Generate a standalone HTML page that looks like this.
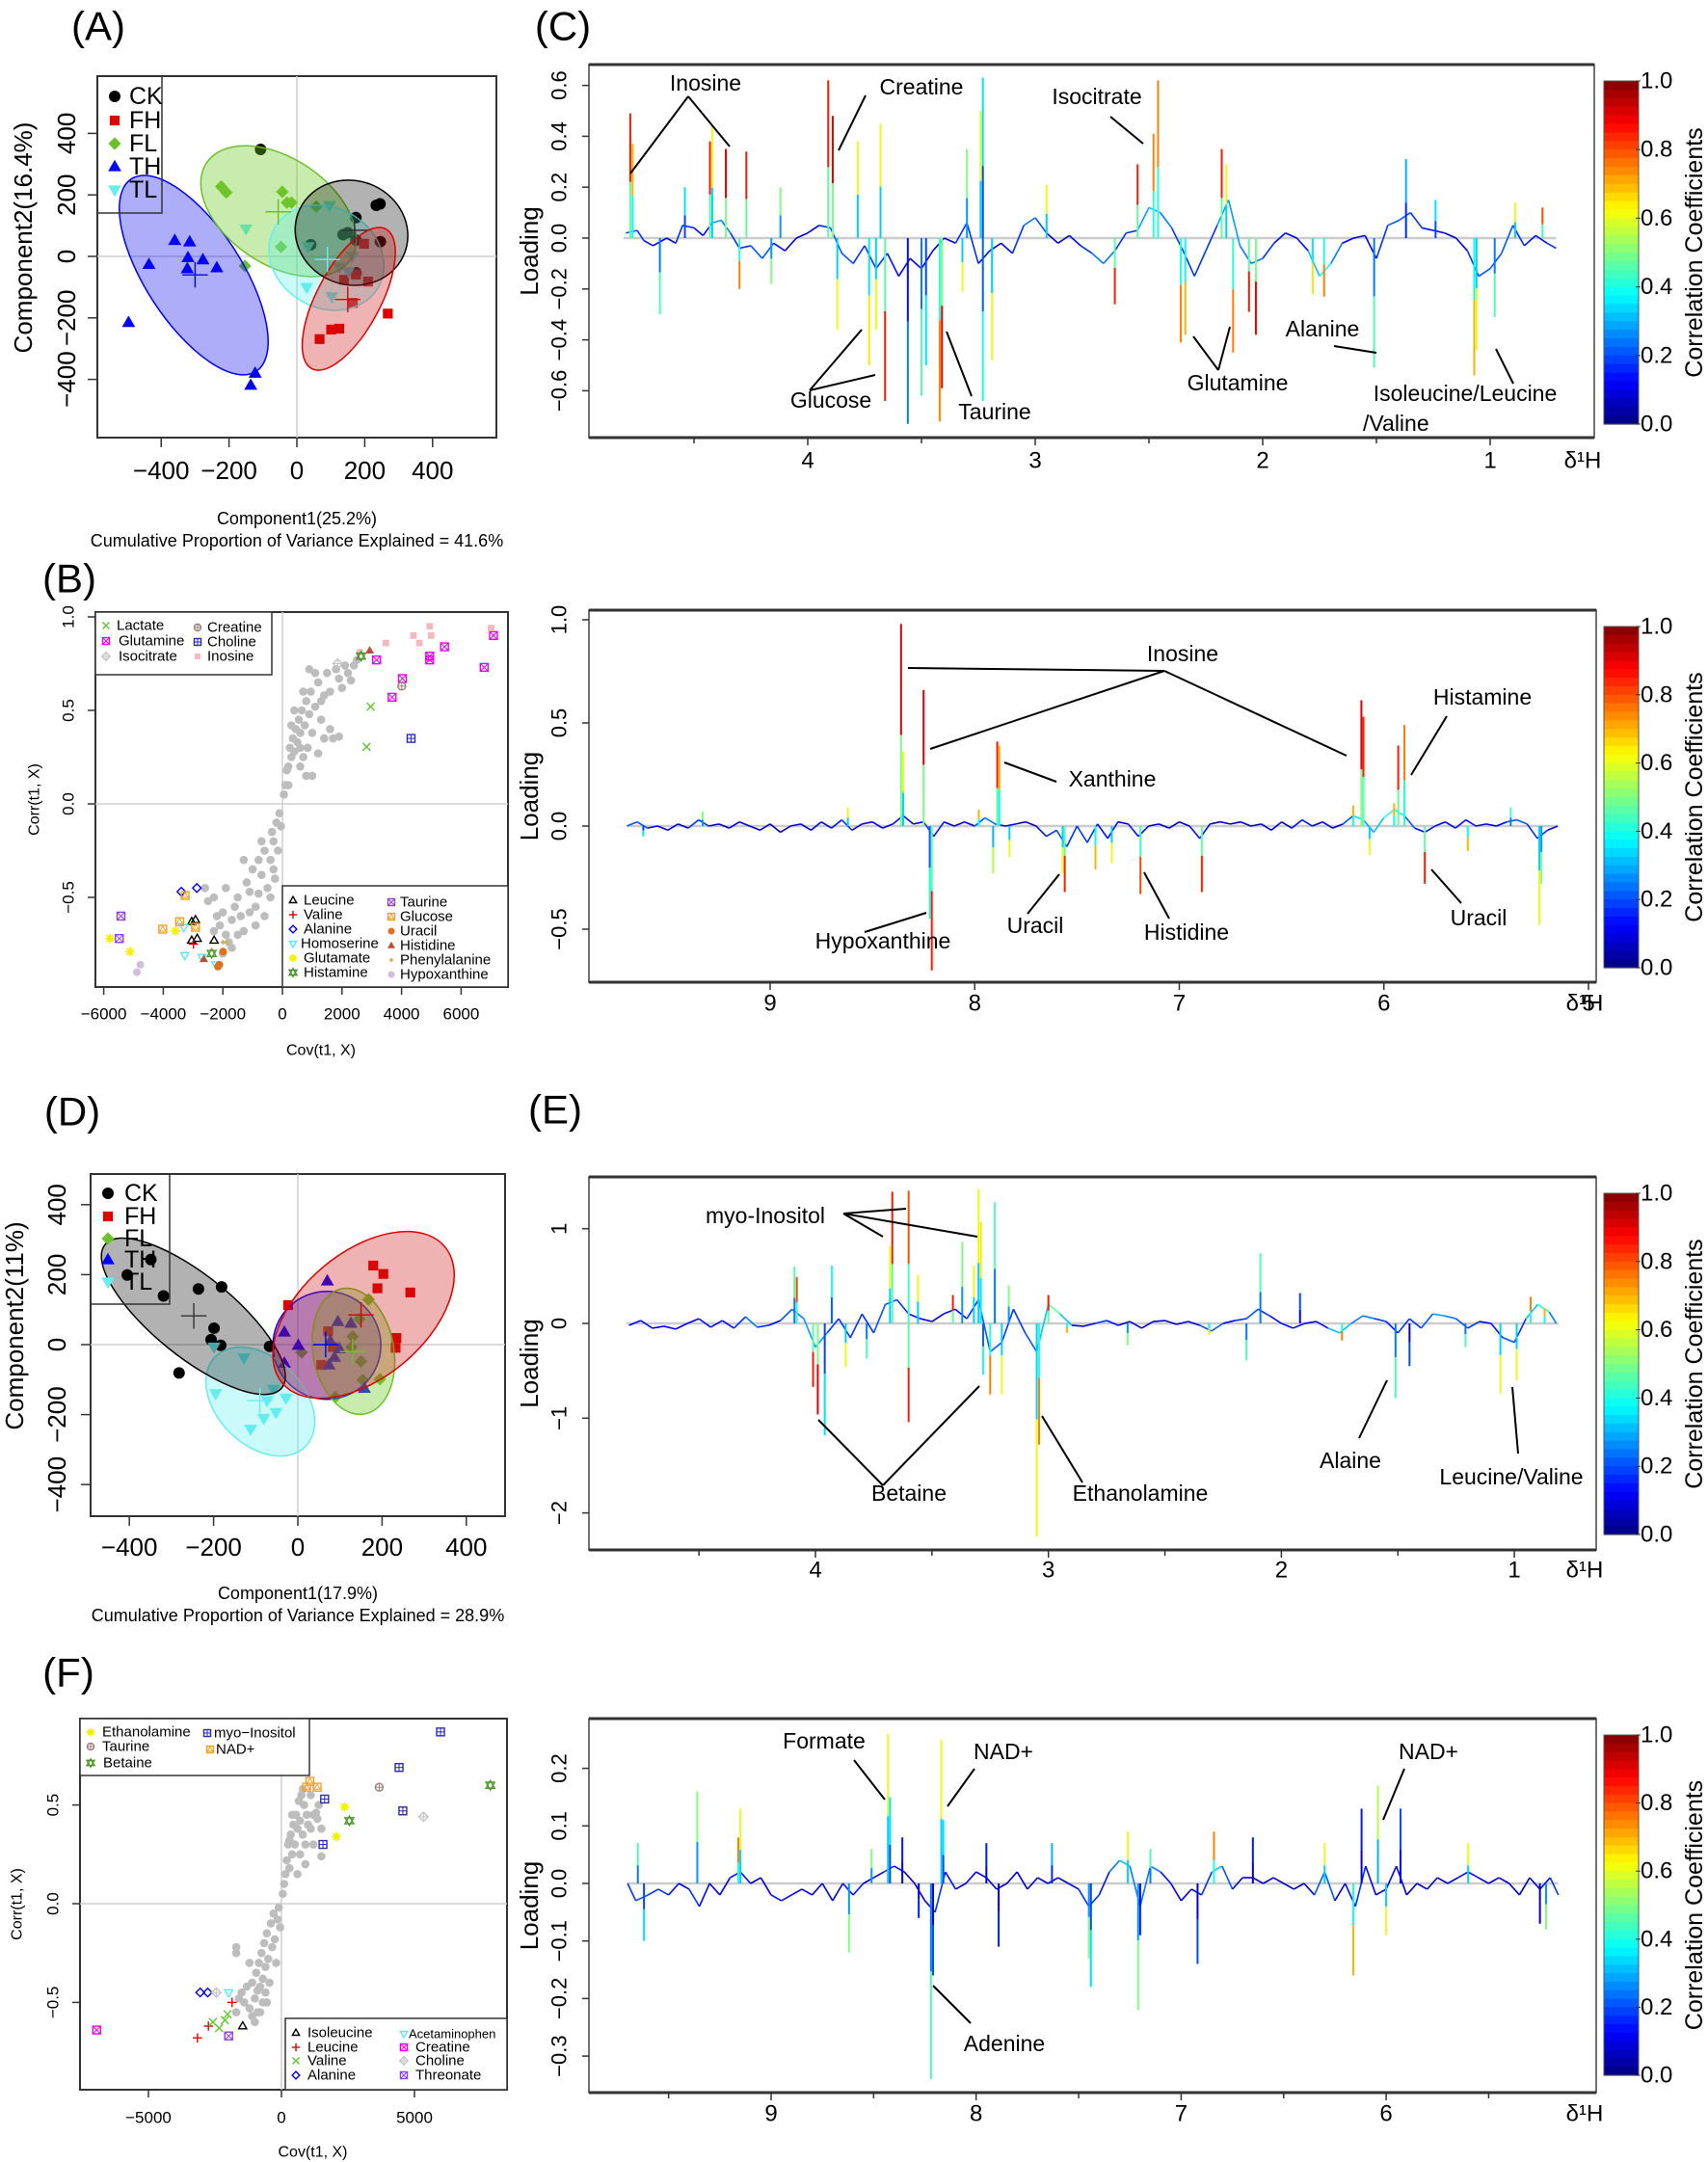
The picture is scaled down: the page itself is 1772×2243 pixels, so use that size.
<!DOCTYPE html>
<html><head><meta charset="utf-8">
<style>
body{margin:0;background:#fff}
svg{display:block;font-family:"Liberation Sans",sans-serif}
.n{font-family:"Liberation Sans Narrow","Liberation Sans",sans-serif}
</style></head>
<body>
<svg id="fig" width="1772" height="2243" viewBox="0 0 1772 2243"></svg>
<script>
// ---------------- DATA ----------------
const aCK=[[-107,348],[174,126],[234,166],[245,171],[246,48],[174,53],[136,71],[150,77],[174,-53],[41,38]];
const aFH=[[67,-269],[101,-238],[125,-235],[268,-186],[165,-151],[139,-76],[174,-59],[210,-82],[198,41]];
const aFL=[[-223,227],[-208,208],[-43,210],[-29,175],[-16,175],[57,162],[-47,31],[-153,-31]];
const aTH=[[-360,52],[-316,47],[-321,-4],[-277,-11],[-436,-26],[-323,-40],[-236,-37],[-496,-215],[-123,-380],[-136,-419]];
const aTL=[[-150,89],[96,165],[33,31],[29,-101],[103,-131],[125,-36],[163,0],[152,-50]];
const aCentroids=[[170,85],[150,-140],[-55,145],[-300,-60],[90,-10]];
const aEllipses=[[161,77,59,54,20],[153,-138,82,33,-62],[-54,147,90,55,34],[-304,-61,119,50,57],[87,-4,62,52,30]];
const aXTicks=[-400,-200,0,200,400];
const aYTicks=[-400,-200,0,200,400];

const dCK=[[-349,243],[-405,199],[-319,139],[-236,159],[-181,165],[-199,47],[-206,14],[-183,-2],[-67,-5],[-282,-81]];
const dFH=[[179,226],[203,202],[189,161],[267,149],[-23,113],[234,19],[232,-9],[72,38],[56,-58],[83,-7]];
const dFL=[[168,129],[146,73],[130,23],[127,-7],[150,-48],[154,-101],[195,-99],[89,-150],[9,-22]];
const dTH=[[70,182],[-32,36],[1,-2],[95,66],[126,61],[77,10],[99,-12],[87,-36],[74,-58],[-32,-53],[158,-125]];
const dTL=[[-199,-7],[-128,-38],[-195,-140],[-58,-128],[-28,-153],[-73,-160],[-52,-194],[-81,-211],[-112,-242]];
const dCentroids=[[-247,82],[150,85],[130,-20],[66,0],[-90,-160]];
const dEllipses=[[-248,81,118,42,39],[156,85,110,65,-40],[132,-19,66,42,80],[69,-2,56,56,0],[-89,-163,66,45,45]];
const dXTicks=[-400,-200,0,200,400];
const dYTicks=[-400,-200,0,200,400];

const bCloud=[[-2600,-0.45],[-2500,-0.52],[-2300,-0.5],[-2200,-0.6],[-2100,-0.65],[-2000,-0.58],[-1900,-0.7],[-1800,-0.74],[-1700,-0.62],[-1600,-0.55],[-1500,-0.5],[-1400,-0.6],[-1300,-0.68],[-1200,-0.42],[-1100,-0.47],[-1000,-0.35],[-900,-0.55],[-800,-0.3],[-700,-0.38],[-600,-0.25],[-500,-0.45],[-400,-0.3],[-350,-0.15],[-300,-0.2],[-250,-0.4],[-200,-0.1],[-150,-0.25],[-100,-0.05],[-50,-0.12],[-1500,-0.7],[-1700,-0.77],[-2000,-0.8],[-900,-0.65],[-600,-0.6],[-1100,-0.58],[-800,-0.48],[-400,-0.5],[-300,-0.35],[-1300,-0.3],[-700,-0.2],[-1900,-0.45],[-2300,-0.68],
[50,0.05],[100,0.1],[150,0.18],[200,0.2],[250,0.3],[300,0.25],[350,0.35],[400,0.28],[450,0.4],[500,0.33],[550,0.45],[600,0.38],[650,0.5],[700,0.25],[750,0.42],[800,0.55],[850,0.3],[900,0.48],[950,0.6],[1000,0.38],[1100,0.52],[1200,0.65],[1300,0.45],[1400,0.58],[1500,0.7],[1600,0.6],[1700,0.35],[1800,0.72],[1900,0.67],[2000,0.62],[2100,0.74],[2200,0.7],[2300,0.66],[2400,0.74],[2500,0.77],[1400,0.35],[1000,0.15],[600,0.2],[1200,0.27],[800,0.15],[300,0.42],[700,0.6],[1100,0.7],[900,0.72],[400,0.5],[1600,0.4],[1900,0.36],[1300,0.55],[600,0.3],[200,0.1]];
const bNames=["Lactate","Glutamine","Isocitrate","Creatine","Choline","Inosine","Leucine","Valine","Alanine","Homoserine","Glutamate","Histamine","Taurine","Glucose","Uracil","Histidine","Phenylalanine","Hypoxanthine"];
const bPoints=[
 [[2965,0.52],[2826,0.305]],
 [[3161,0.77],[4030,0.67],[3683,0.57],[4945,0.79],[4945,0.77],[5443,0.84],[7087,0.9],[6774,0.73]],
 [[1853,0.75]],
 [[4007,0.63]],
 [[4319,0.35]],
 [[3474,0.86],[4400,0.9],[4597,0.86],[4945,0.95],[4991,0.9],[7005,0.94],[2600,0.81]],
 [[-3046,-0.63],[-2918,-0.62],[-3046,-0.73],[-2860,-0.72],[-2293,-0.73]],
 [[-2988,-0.75]],
 [[-3393,-0.47],[-2872,-0.45]],
 [[-3312,-0.66],[-3277,-0.81],[-2698,-0.82],[-2235,-0.86]],
 [[-5790,-0.72],[-5118,-0.79],[-3590,-0.68]],
 [[2640,0.79],[-2374,-0.8]],
 [[-5420,-0.6],[-5477,-0.72]],
 [[-4018,-0.67],[-3451,-0.63],[-2918,-0.66],[-3266,-0.49]],
 [[-1992,-0.79],[-2119,-0.86],[-2165,-0.87]],
 [[2930,0.82],[-2640,-0.83]],
 [[-1992,-0.74],[-1853,-0.74]],
 [[-4771,-0.86],[-4887,-0.9]]];
const bXTicks=[-6000,-4000,-2000,0,2000,4000,6000];
const bYTicks=[-0.5,0,0.5,1.0];
const bYLabels=["\u22120.5","0.0","0.5","1.0"];

const fCloud=[[-1700,-0.55],[-1600,-0.48],[-1500,-0.45],[-1400,-0.5],[-1300,-0.42],[-1200,-0.53],[-1100,-0.4],[-1000,-0.48],[-950,-0.35],[-900,-0.55],[-850,-0.3],[-800,-0.42],[-750,-0.25],[-700,-0.38],[-650,-0.2],[-600,-0.32],[-550,-0.15],[-500,-0.28],[-450,-0.4],[-400,-0.1],[-350,-0.22],[-300,-0.05],[-250,-0.18],[-200,-0.3],[-150,-0.08],[-100,-0.02],[-50,-0.12],[-1700,-0.22],[-1700,-0.25],[-1200,-0.3],[-600,-0.45],[-800,-0.55],[-1000,-0.6],[-550,-0.5],[-1100,-0.57],[-900,-0.44],[-700,-0.5],
[50,0.05],[100,0.1],[150,0.15],[200,0.22],[250,0.3],[300,0.18],[350,0.35],[400,0.25],[450,0.4],[500,0.3],[550,0.45],[600,0.38],[650,0.52],[700,0.42],[750,0.55],[800,0.35],[850,0.5],[900,0.3],[950,0.45],[1000,0.4],[1100,0.38],[1200,0.3],[1300,0.46],[1350,0.43],[1400,0.5],[1500,0.38],[1500,0.24],[900,0.2],[700,0.25],[600,0.15],[1100,0.55],[400,0.45],[300,0.32],[1200,0.45],[800,0.58]];
const fNames=["Ethanolamine","myo-Inositol","Taurine","NAD+","Betaine","Isoleucine","Leucine","Valine","Alanine","Acetaminophen","Creatine","Choline","Threonate"];
const fPoints=[
 [[2372,0.49],[2062,0.34]],
 [[5981,0.87],[4421,0.69],[1624,0.53],[4563,0.47],[1560,0.3]],
 [[3674,0.59]],
 [[941,0.59],[1070,0.62],[1341,0.59]],
 [[2552,0.42],[7850,0.6]],
 [[-1457,-0.62]],
 [[-1856,-0.5],[-2746,-0.62],[-3158,-0.68]],
 [[-2578,-0.6],[-2346,-0.63],[-2127,-0.59],[-2024,-0.56]],
 [[-3055,-0.45],[-2771,-0.45]],
 [[-1985,-0.45]],
 [[-6948,-0.64]],
 [[5337,0.44],[-2449,-0.45]],
 [[-1985,-0.67]]];
const fXTicks=[-5000,0,5000];
const fYTicks=[-0.5,0,0.5];
const fYLabels=["\u22120.5","0.0","0.5"];

const cBase=[[4.80,0.02,.3],[4.75,0.03,.3],[4.72,-0.01,.2],[4.68,-0.03,.2],[4.62,0,.1],[4.58,-0.02,.2],[4.55,0.05,.3],[4.5,0.04,.2],[4.46,0.01,.1],[4.42,0.06,.3],[4.38,0.07,.5],[4.34,0.02,.2],[4.3,-0.04,.3],[4.25,-0.03,.2],[4.2,-0.08,.4],[4.15,-0.02,.2],[4.1,-0.05,.2],[4.05,0,.1],[4.0,0.02,.1],[3.95,0.05,.2],[3.9,0.04,.3],[3.85,-0.06,.3],[3.8,-0.1,.3],[3.75,-0.03,.2],[3.7,-0.12,.3],[3.65,-0.06,.2],[3.6,-0.15,.2],[3.55,-0.08,.1],[3.5,-0.12,.2],[3.45,-0.05,.1],[3.4,0,.1],[3.35,-0.02,.2],[3.3,0.06,.3],[3.25,-0.1,.2],[3.2,-0.05,.2],[3.15,-0.02,.1],[3.1,-0.06,.2],[3.05,0.05,.3],[3.0,0.08,.4],[2.95,0.02,.2],[2.9,-0.02,.1],[2.85,0.01,.1],[2.8,-0.03,.2],[2.75,-0.06,.3],[2.7,-0.1,.4],[2.65,-0.05,.3],[2.6,0.02,.2],[2.55,0.03,.3],[2.5,0.12,.5],[2.45,0.1,.4],[2.4,0.04,.3],[2.35,-0.05,.2],[2.3,-0.15,.3],[2.25,-0.05,.2],[2.2,0.05,.3],[2.15,0.15,.5],[2.1,-0.03,.3],[2.05,-0.1,.4],[2.0,-0.08,.3],[1.95,-0.02,.2],[1.9,0.02,.2],[1.85,0,.1],[1.8,-0.05,.3],[1.75,-0.15,.6],[1.7,-0.1,.5],[1.65,-0.02,.2],[1.6,0,.1],[1.55,0.01,.1],[1.5,-0.08,.2],[1.45,0.05,.3],[1.4,0.07,.3],[1.35,0.1,.3],[1.3,0.04,.2],[1.25,0.03,.2],[1.2,0.02,.1],[1.15,0,.1],[1.1,-0.05,.2],[1.05,-0.15,.3],[1.0,-0.12,.3],[0.95,-0.06,.3],[0.9,0.05,.3],[0.85,-0.03,.2],[0.8,0.01,.2],[0.75,-0.02,.2],[0.71,-0.04,.3]];
const cPeaks=[[4.78,0.49,.85],[4.77,0.37,.7],[4.65,-0.30,.45],[4.54,0.2,.35],[4.43,0.38,.85],[4.42,0.44,.6],[4.36,0.35,.9],[4.30,-0.20,.75],[4.27,0.34,.85],[4.16,-0.18,.5],[4.12,0.2,.5],[3.91,0.62,.85],[3.89,0.48,.9],[3.87,-0.36,.6],[3.78,0.38,.6],[3.73,-0.50,.65],[3.70,-0.36,.6],[3.68,0.45,.6],[3.66,-0.64,.85],[3.56,-0.73,.25],[3.50,-0.62,.45],[3.48,-0.5,.35],[3.42,-0.72,.75],[3.41,-0.59,.9],[3.32,-0.21,.6],[3.30,0.35,.5],[3.24,0.50,.6],[3.23,0.63,.35],[3.23,-0.64,.4],[3.19,-0.48,.6],[2.95,0.21,.6],[2.65,-0.26,.85],[2.55,0.29,.85],[2.48,0.41,.75],[2.46,0.62,.75],[2.36,-0.41,.75],[2.34,-0.38,.7],[2.18,0.35,.85],[2.16,0.29,.6],[2.13,-0.45,.75],[2.06,-0.29,.85],[2.03,-0.38,.9],[1.78,-0.22,.65],[1.73,-0.23,.75],[1.51,-0.51,.45],[1.37,0.31,.3],[1.24,0.15,.35],[1.07,-0.54,.7],[1.06,-0.44,.6],[0.98,-0.31,.45],[0.89,0.14,.6],[0.77,0.12,.8]];

const sbBase=[[9.7,0,.2],[9.65,0.02,.4],[9.6,-0.01,.2],[9.55,0,.1],[9.5,-0.02,.2],[9.45,0.01,.1],[9.4,-0.01,.1],[9.35,0.03,.4],[9.3,0,.1],[9.25,0.01,.1],[9.2,-0.01,.1],[9.15,0.02,.2],[9.1,0,.1],[9.05,-0.02,.1],[9.0,0.01,.1],[8.95,-0.03,.1],[8.9,0,.1],[8.85,0.01,.2],[8.8,-0.02,.1],[8.75,0.02,.2],[8.7,-0.01,.1],[8.65,0.03,.3],[8.6,-0.02,.2],[8.55,0.01,.1],[8.5,0.02,.2],[8.45,-0.01,.1],[8.4,0.01,.1],[8.35,0.05,.3],[8.3,0.01,.1],[8.25,0.02,.2],[8.2,-0.05,.3],[8.15,0.02,.1],[8.1,0,.1],[8.05,0.02,.2],[8.0,0,.1],[7.95,0.04,.5],[7.9,0.01,.2],[7.85,0,.1],[7.8,0.01,.1],[7.75,0.02,.1],[7.7,0,.1],[7.65,-0.05,.3],[7.6,-0.02,.2],[7.55,-0.1,.4],[7.5,0,.1],[7.45,-0.08,.4],[7.4,0.01,.1],[7.35,-0.06,.3],[7.3,0.02,.1],[7.25,0.01,.1],[7.2,-0.05,.3],[7.15,0,.1],[7.1,0.01,.1],[7.05,-0.01,.1],[7.0,0.02,.1],[6.95,0,.1],[6.9,-0.06,.3],[6.85,0.01,.1],[6.8,0.02,.1],[6.75,0.01,.1],[6.7,0.02,.1],[6.65,0,.1],[6.6,0.01,.1],[6.55,-0.02,.2],[6.5,0.02,.1],[6.45,-0.01,.1],[6.4,0.03,.3],[6.35,0,.1],[6.3,0.02,.2],[6.25,-0.01,.1],[6.2,0.01,.1],[6.15,0.05,.5],[6.1,0.03,.5],[6.05,-0.03,.3],[6.0,0.04,.6],[5.95,0.08,.6],[5.9,0.05,.5],[5.85,-0.01,.1],[5.8,-0.03,.3],[5.75,0,.1],[5.7,0.02,.2],[5.65,-0.01,.1],[5.6,0.03,.3],[5.55,0,.1],[5.5,0.01,.1],[5.45,0,.1],[5.4,0.02,.2],[5.35,0.03,.4],[5.3,0.01,.2],[5.25,-0.06,.3],[5.2,-0.02,.2],[5.15,0,.1]];
const sbPeaks=[[8.36,0.98,.9],[8.35,0.36,.6],[8.25,0.66,.9],[8.21,-0.70,.85],[8.22,-0.45,.4],[7.89,0.41,.85],[7.88,0.39,.7],[7.91,-0.23,.55],[7.83,-0.15,.6],[7.56,-0.32,.85],[7.57,-0.23,.6],[7.41,-0.21,.7],[7.33,-0.18,.6],[7.19,-0.33,.8],[6.89,-0.32,.85],[6.11,0.61,.9],[6.10,0.53,.85],[6.07,-0.14,.6],[5.93,0.39,.85],[5.90,0.49,.75],[5.95,0.11,.7],[5.80,-0.28,.85],[5.59,-0.12,.7],[5.38,0.09,.45],[5.24,-0.48,.6],[5.23,-0.28,.5],[8.62,0.09,.6],[9.33,0.07,.5],[9.62,-0.05,.35],[7.98,0.08,.7],[6.15,0.1,.7]];

const eBase=[[4.80,-0.02,.1],[4.75,0.03,.2],[4.7,-0.05,.2],[4.65,-0.03,.1],[4.6,-0.06,.2],[4.55,0,.1],[4.5,0.05,.2],[4.45,-0.04,.2],[4.4,0.03,.2],[4.35,-0.05,.2],[4.3,0.07,.3],[4.25,-0.04,.4],[4.2,-0.02,.1],[4.15,0.03,.2],[4.1,0.15,.4],[4.05,0.05,.3],[4.0,-0.25,.5],[3.95,-0.1,.3],[3.9,0.05,.2],[3.85,-0.15,.3],[3.8,0.1,.2],[3.75,-0.1,.3],[3.7,0.2,.3],[3.65,0.25,.3],[3.6,0.1,.2],[3.55,0.05,.2],[3.5,0.02,.1],[3.45,0.1,.2],[3.4,0.15,.2],[3.35,0.05,.2],[3.3,0.25,.3],[3.25,-0.3,.3],[3.2,-0.2,.3],[3.15,0.15,.2],[3.1,-0.1,.3],[3.05,-0.3,.3],[3.0,0.2,.6],[2.95,0.1,.7],[2.9,-0.02,.2],[2.85,-0.03,.1],[2.8,0,.2],[2.75,0.03,.3],[2.7,-0.02,.1],[2.65,0.02,.1],[2.6,-0.05,.2],[2.55,0.02,.1],[2.5,0.03,.1],[2.45,-0.01,.1],[2.4,0.02,.1],[2.35,-0.02,.1],[2.3,-0.08,.5],[2.25,0,.1],[2.2,0.03,.2],[2.15,0.05,.3],[2.1,0.15,.3],[2.05,0.08,.2],[2.0,0,.1],[1.95,-0.05,.3],[1.9,0,.1],[1.85,0.02,.1],[1.8,-0.05,.3],[1.75,-0.1,.6],[1.7,0,.3],[1.65,0.08,.4],[1.6,0.05,.3],[1.55,0.02,.2],[1.5,-0.1,.2],[1.45,0.05,.3],[1.4,-0.05,.2],[1.35,0.1,.4],[1.3,0.08,.4],[1.25,0.05,.3],[1.2,-0.05,.3],[1.15,0.02,.2],[1.1,0,.1],[1.05,-0.15,.3],[1.0,-0.2,.3],[0.95,0.05,.2],[0.9,0.2,.7],[0.85,0.12,.5],[0.82,0,.2]];
const ePeaks=[[4.09,0.6,.45],[4.08,0.49,.8],[4.01,-0.67,.85],[3.99,-0.96,.9],[3.96,-1.18,.35],[3.93,0.61,.4],[3.87,-0.46,.6],[3.78,-0.37,.45],[3.68,0.82,.6],[3.67,1.39,.85],[3.60,-1.04,.85],[3.60,1.40,.8],[3.56,0.51,.6],[3.41,0.3,.85],[3.37,0.86,.5],[3.32,0.61,.6],[3.30,1.42,.6],[3.29,1.07,.65],[3.28,-0.54,.4],[3.25,-0.75,.75],[3.23,1.28,.45],[3.20,-0.75,.6],[3.17,0.4,.5],[3.05,-2.25,.6],[3.04,-1.28,.75],[3.0,0.3,.85],[2.92,-0.1,.7],[2.66,-0.23,.5],[2.31,-0.12,.65],[2.09,0.74,.45],[2.15,-0.39,.45],[1.92,0.32,.2],[1.74,-0.18,.75],[1.51,-0.79,.45],[1.45,-0.45,.2],[1.21,-0.25,.45],[1.06,-0.74,.6],[0.99,-0.6,.6],[0.93,0.28,.75],[0.87,0.16,.7]];

const sfBase=[[9.7,0,.2],[9.66,-0.03,.3],[9.6,-0.02,.3],[9.55,-0.01,.2],[9.5,-0.02,.3],[9.45,0,.1],[9.4,-0.01,.2],[9.35,-0.04,.3],[9.3,0,.1],[9.25,-0.02,.2],[9.2,0.01,.1],[9.15,0.02,.3],[9.1,0,.1],[9.05,0.01,.1],[9.0,-0.02,.2],[8.95,-0.03,.2],[8.9,-0.02,.2],[8.85,-0.01,.1],[8.8,-0.02,.2],[8.75,0,.1],[8.7,-0.03,.2],[8.65,0,.1],[8.6,-0.02,.3],[8.55,0,.1],[8.5,0.01,.1],[8.45,0.02,.2],[8.4,0.03,.3],[8.35,0.02,.1],[8.3,0,.1],[8.25,-0.03,.1],[8.2,-0.05,.2],[8.15,0.02,.3],[8.1,-0.01,.1],[8.05,0,.1],[8.0,0.02,.2],[7.95,0.01,.1],[7.9,-0.01,.1],[7.85,0,.1],[7.8,0.02,.1],[7.75,-0.01,.1],[7.7,0.01,.1],[7.65,0,.1],[7.6,0.01,.1],[7.55,0,.1],[7.5,-0.01,.2],[7.45,-0.04,.3],[7.4,-0.02,.2],[7.35,0.02,.2],[7.3,0.04,.5],[7.25,0.03,.4],[7.2,-0.04,.3],[7.15,0.03,.4],[7.1,0.02,.3],[7.05,0,.1],[7.0,-0.03,.2],[6.95,-0.01,.1],[6.9,-0.02,.1],[6.85,0.02,.4],[6.8,0.03,.5],[6.75,-0.01,.1],[6.7,0.01,.1],[6.65,0.01,.1],[6.6,0,.1],[6.55,0.01,.1],[6.5,0,.1],[6.45,-0.01,.1],[6.4,0,.1],[6.35,-0.02,.2],[6.3,0.02,.4],[6.25,-0.03,.2],[6.2,0,.1],[6.15,-0.04,.3],[6.1,0.03,.2],[6.05,-0.02,.1],[6.0,-0.01,.1],[5.95,0.03,.2],[5.9,-0.02,.1],[5.85,0,.1],[5.8,-0.01,.1],[5.75,0.01,.1],[5.7,0,.1],[5.65,0.01,.1],[5.6,0.02,.3],[5.55,0.01,.1],[5.5,0,.1],[5.45,0.01,.1],[5.4,0,.1],[5.35,-0.02,.1],[5.3,0.01,.1],[5.25,-0.01,.1],[5.2,0.01,.2],[5.16,-0.02,.3]];
const sfPeaks=[[9.65,0.07,.45],[9.62,-0.10,.35],[9.36,0.16,.5],[9.15,0.13,.6],[9.16,0.08,.75],[8.62,-0.12,.5],[8.51,0.06,.5],[8.43,0.26,.6],[8.42,0.15,.35],[8.36,0.08,.15],[8.28,-0.06,.15],[8.21,-0.16,.2],[8.22,-0.34,.45],[8.17,0.25,.6],[8.16,0.11,.35],[7.95,0.07,.15],[7.89,-0.11,.15],[7.63,0.07,.3],[7.45,-0.13,.5],[7.44,-0.18,.35],[7.26,0.09,.6],[7.21,-0.22,.5],[7.20,-0.09,.15],[7.15,0.06,.45],[6.92,-0.14,.2],[6.84,0.09,.75],[6.65,0.08,.15],[6.30,0.07,.6],[6.16,-0.16,.7],[6.12,0.13,.15],[6.04,0.17,.55],[6.00,-0.09,.6],[5.93,0.13,.2],[5.60,0.07,.6],[5.25,-0.07,.1],[5.22,-0.08,.5]];

// ---------------- HELPERS ----------------
const NS='http://www.w3.org/2000/svg';
const svg=document.getElementById('fig');
function E(tag,attrs,parent){const e=document.createElementNS(NS,tag);for(const k in attrs)e.setAttribute(k,attrs[k]);(parent||svg).appendChild(e);return e;}
function G(name,parent){const g=E('g',{},parent);


return g;}
function T(parent,name,txt,x,y,size,opt){opt=opt||{};
const a={x:x,y:y,'font-size':size,'text-anchor':opt.anchor||'middle','dominant-baseline':'central',fill:'#000'};
if(opt.rot)a.transform='rotate('+opt.rot+' '+x+' '+y+')';
if(opt.cls)a['class']=opt.cls;
if(opt.weight)a['font-weight']=opt.weight;
const t=E('text',a,parent);t.textContent=txt;


return t;}
function L(parent,name,x1,y1,x2,y2,color,w){const l=E('line',{x1:x1,y1:y1,x2:x2,y2:y2,stroke:color||'#000','stroke-width':w||1.5},parent);


return l;}
function jet(v){const c=t=>Math.round(255*Math.max(0,Math.min(1,t)));return 'rgb('+c(1.5-Math.abs(4*v-3))+','+c(1.5-Math.abs(4*v-2))+','+c(1.5-Math.abs(4*v-1))+')';}
function minus(v){return String(v).replace('-','\u2212');}

function M(parent,name,type,x,y,color,s){const g=E('g',{},parent);


const sw=1.4;
const tri=(k)=>[[x,y-s*k],[x-s*k*0.95,y+s*k*0.65],[x+s*k*0.95,y+s*k*0.65]].map(p=>p.join(',')).join(' ');
const trid=(k)=>[[x,y+s*k],[x-s*k*0.95,y-s*k*0.65],[x+s*k*0.95,y-s*k*0.65]].map(p=>p.join(',')).join(' ');
const dia=(k)=>[[x,y-s*k],[x+s*k,y],[x,y+s*k],[x-s*k,y]].map(p=>p.join(',')).join(' ');
if(type==='circle')E('circle',{cx:x,cy:y,r:s,fill:color},g);
else if(type==='square')E('rect',{x:x-s*0.85,y:y-s*0.85,width:s*1.7,height:s*1.7,fill:color},g);
else if(type==='diamond')E('polygon',{points:dia(1.1),fill:color},g);
else if(type==='tri')E('polygon',{points:tri(1.2),fill:color},g);
else if(type==='tridown')E('polygon',{points:trid(1.2),fill:color},g);
else if(type==='opentri')E('polygon',{points:tri(1.1),fill:'none',stroke:color,'stroke-width':sw},g);
else if(type==='opentridown')E('polygon',{points:trid(1.1),fill:'none',stroke:color,'stroke-width':sw},g);
else if(type==='opendiam')E('polygon',{points:dia(1.1),fill:'none',stroke:color,'stroke-width':sw},g);
else if(type==='plus'){E('line',{x1:x-s*1.2,y1:y,x2:x+s*1.2,y2:y,stroke:color,'stroke-width':sw},g);E('line',{x1:x,y1:y-s*1.2,x2:x,y2:y+s*1.2,stroke:color,'stroke-width':sw},g);}
else if(type==='xcross'){E('line',{x1:x-s,y1:y-s,x2:x+s,y2:y+s,stroke:color,'stroke-width':sw},g);E('line',{x1:x-s,y1:y+s,x2:x+s,y2:y-s,stroke:color,'stroke-width':sw},g);}
else if(type==='aster'){[[1,0],[0,1],[0.7,0.7],[0.7,-0.7]].forEach(d=>E('line',{x1:x-d[0]*s*1.2,y1:y-d[1]*s*1.2,x2:x+d[0]*s*1.2,y2:y+d[1]*s*1.2,stroke:color,'stroke-width':sw+0.4},g));}
else if(type==='boxx'){E('rect',{x:x-s,y:y-s,width:2*s,height:2*s,fill:'none',stroke:color,'stroke-width':sw},g);E('line',{x1:x-s,y1:y-s,x2:x+s,y2:y+s,stroke:color,'stroke-width':1},g);E('line',{x1:x-s,y1:y+s,x2:x+s,y2:y-s,stroke:color,'stroke-width':1},g);}
else if(type==='boxplus'){E('rect',{x:x-s,y:y-s,width:2*s,height:2*s,fill:'none',stroke:color,'stroke-width':sw},g);E('line',{x1:x-s,y1:y,x2:x+s,y2:y,stroke:color,'stroke-width':1},g);E('line',{x1:x,y1:y-s,x2:x,y2:y+s,stroke:color,'stroke-width':1},g);}
else if(type==='boxtri'){E('rect',{x:x-s,y:y-s,width:2*s,height:2*s,fill:'none',stroke:color,'stroke-width':sw},g);E('polygon',{points:tri(0.8),fill:'none',stroke:color,'stroke-width':1},g);}
else if(type==='circplus'){E('circle',{cx:x,cy:y,r:s,fill:'none',stroke:color,'stroke-width':sw},g);E('line',{x1:x-s,y1:y,x2:x+s,y2:y,stroke:color,'stroke-width':1},g);E('line',{x1:x,y1:y-s,x2:x,y2:y+s,stroke:color,'stroke-width':1},g);}
else if(type==='diamplus'){E('polygon',{points:dia(1.2),fill:'none',stroke:color,'stroke-width':sw},g);E('line',{x1:x-s*1.2,y1:y,x2:x+s*1.2,y2:y,stroke:color,'stroke-width':1},g);E('line',{x1:x,y1:y-s*1.2,x2:x,y2:y+s*1.2,stroke:color,'stroke-width':1},g);}
else if(type==='david'){E('polygon',{points:tri(1.2),fill:'none',stroke:color,'stroke-width':sw},g);E('polygon',{points:trid(1.2),fill:'none',stroke:color,'stroke-width':sw},g);}
else if(type==='dot')E('polygon',{points:dia(0.7),fill:color},g);
return g;}

// ---------------- SCORE PLOTS (A, D) ----------------
const grpNames=['CK','FH','FL','TH','TL'];
const grpColor=['#000000','#e00000','#6cc12a','#0000ff','#66eef0'];
const grpShape=['circle','square','diamond','tri','tridown'];
const grpFill=['rgba(0,0,0,0.30)','rgba(205,20,20,0.32)','rgba(110,205,40,0.38)','rgba(0,0,235,0.32)','rgba(90,240,240,0.32)'];
const grpOrder=[3,2,4,0,1];

function frame(g,box,xs,ys,xt,yt,xl,yl,fs,xlabY,ylabX,tl){
 const r=E('rect',{x:box[0],y:box[1],width:box[2]-box[0],height:box[3]-box[1],fill:'none',stroke:'#333','stroke-width':2},g);
 
 
 L(g,'zero-vline',xs(0),box[1],xs(0),box[3],'#cfcfcf',1.5);
 L(g,'zero-hline',box[0],ys(0),box[2],ys(0),'#cfcfcf',1.5);
 xt.forEach((v,i)=>{L(g,'x-tick',xs(v),box[3],xs(v),box[3]+tl,'#333',1.5);T(g,'x-tick-label',xl[i],xs(v),xlabY,fs);});
 yt.forEach((v,i)=>{L(g,'y-tick',box[0],ys(v),box[0]-tl,ys(v),'#333',1.5);T(g,'y-tick-label',yl[i],ylabX,ys(v),fs,{rot:-90});});
}

function scorePlot(name,box,xs,ys,ticksX,ticksY,groups,cents,ells,labY,labX,xtitle,ytitle,ytitleX,cumY,cumText,legBox,legY,legMX,legTX){
 const g=G(name);
 frame(g,box,xs,ys,ticksX,ticksY,ticksX.map(minus),ticksY.map(minus),26,labY,labX,10);
 groups.forEach((pts,k)=>pts.forEach(p=>M(g,grpNames[k].toLowerCase()+'-point',grpShape[k],xs(p[0]),ys(p[1]),grpColor[k],6)));
 grpOrder.forEach(k=>{const e=ells[k];
  const el=E('ellipse',{cx:xs(e[0]),cy:ys(e[1]),rx:e[2],ry:e[3],transform:'rotate('+e[4]+' '+xs(e[0])+' '+ys(e[1])+')',fill:grpFill[k],stroke:grpColor[k],'stroke-width':1.5},g);
  
  });
 cents.forEach((c,k)=>M(g,grpNames[k].toLowerCase()+'-centroid','plus',xs(c[0]),ys(c[1]),grpColor[k]==='#000000'?'#333':grpColor[k],11));
 T(g,'x-axis-title',xtitle,box[0]+(box[2]-box[0])/2,cumY-23,18);
 T(g,'variance-note',cumText,box[0]+(box[2]-box[0])/2,cumY,18);
 T(g,'y-axis-title',ytitle,ytitleX,box[1]+(box[3]-box[1])/2-20,26,{rot:-90});
 const lg=G('legend',g);
 const lr=E('rect',{x:box[0],y:box[1],width:legBox[0],height:legBox[1],fill:'none',stroke:'#333','stroke-width':1.5},lg);
 
 
 grpNames.forEach((n,k)=>{M(lg,'legend-marker-'+n.toLowerCase(),grpShape[k],legMX,legY[k],grpColor[k],6);T(lg,'legend-label-'+n.toLowerCase(),n,legTX,legY[k],25,{anchor:'start'});});
 return g;
}
scorePlot('panel-a',[101,79,515,454],v=>308+v*0.352,v=>266-v*0.319,aXTicks,aYTicks,[aCK,aFH,aFL,aTH,aTL],aCentroids,aEllipses,488,69,'Component1(25.2%)','Component2(16.4%)',24,561,'Cumulative Proportion of Variance Explained = 41.6%',[67,142],[100,125,149,173,197],119,134);
scorePlot('panel-d',[94,1218,524,1573],v=>309+v*0.437,v=>1395-v*0.363,dXTicks,dYTicks,[dCK,dFH,dFL,dTH,dTL],dCentroids,dEllipses,1605,59,'Component1(17.9%)','Component2(11%)',15,1676,'Cumulative Proportion of Variance Explained = 28.9%',[82,135],[1238,1262,1285,1307,1330],112,129);

// ---------------- S-PLOTS (B, F) ----------------
const bStyle={Lactate:['xcross','#5ec62e'],Glutamine:['boxx','#ee00ee'],Isocitrate:['diamplus','#c4c4c4'],Creatine:['circplus','#9a7f7a'],Choline:['boxplus','#2b2bb0'],Inosine:['square','#f4b8c0'],Leucine:['opentri','#000'],Valine:['plus','#e00000'],Alanine:['opendiam','#0000ee'],Homoserine:['opentridown','#55e8ff'],Glutamate:['aster','#f2f200'],Histamine:['david','#4a9a2a'],Taurine:['boxx','#9040e0'],Glucose:['boxtri','#f0a020'],Uracil:['circle','#e07020'],Histidine:['tri','#b5523b'],Phenylalanine:['dot','#c8b860'],Hypoxanthine:['circle','#d4bcdc']};
const fStyle={Ethanolamine:['aster','#f2f200'],'myo-Inositol':['boxplus','#2b2bb0'],Taurine:['circplus','#9a7f7a'],'NAD+':['boxtri','#f0a020'],Betaine:['david','#4a9a2a'],Isoleucine:['opentri','#000'],Leucine:['plus','#e00000'],Valine:['xcross','#5ec62e'],Alanine:['opendiam','#0000ee'],Acetaminophen:['opentridown','#55e8ff'],Creatine:['boxx','#ee00ee'],Choline:['diamplus','#c4c4c4'],Threonate:['boxx','#9040e0']};

function sPlot(name,box,xs,ys,xt,yt,yl,cloud,names,pts,styleFor,labY,labX,ytX,xtY,legs){
 const g=G(name);
 frame(g,box,xs,ys,xt,yt,xt.map(minus),yl,17,labY,labX,8);
 cloud.forEach(p=>{const c=E('circle',{cx:xs(p[0]),cy:ys(p[1]),r:4.3,fill:'#bdbdbd'},g);
  
  });
 names.forEach((n,i)=>{const st=styleFor(n);if(!st)return;pts[i].forEach(p=>M(g,n.toLowerCase()+'-point',st[0],xs(p[0]),ys(p[1]),st[1],4));});
 T(g,'x-axis-title','Cov(t1, X)',box[0]+(box[2]-box[0])/2+20,xtY,16);
 T(g,'y-axis-title','Corr(t1, X)',ytX,box[1]+(box[3]-box[1])/2,16,{rot:-90});
 legs.forEach(lg=>{const lgG=G('legend',g);
  const r=E('rect',{x:lg.box[0],y:lg.box[1],width:lg.box[2]-lg.box[0],height:lg.box[3]-lg.box[1],fill:'#fff',stroke:'#333','stroke-width':1.5},lgG);
  
  
  lg.items.forEach(it=>{const st=styleFor(it[0].replace('\u2212','-'));if(st)M(lgG,'legend-marker',st[0],it[1],it[3],st[1],3.5);T(lgG,'legend-label',it[0],it[2],it[3],it[4]||15,{anchor:'start'});});});
 return g;
}
sPlot('panel-b',[99,635,527,1024],v=>293+v*0.0309,v=>834-v*194,bXTicks,bYTicks,bYLabels,bCloud,bNames,bPoints,n=>bStyle[n],1052,71,36,1090,[
 {box:[99,635,282,700],items:[['Lactate',110,121,649],['Glutamine',110,123,665],['Isocitrate',110,123,681],['Creatine',205,215,651],['Choline',205,215,666],['Inosine',205,215,681]]},
 {box:[293,919,527,1024],items:[['Leucine',304,315,934],['Valine',304,315,949],['Alanine',304,315,964],['Homoserine',304,312,979],['Glutamate',304,315,994],['Histamine',304,315,1009],['Taurine',406,415,936],['Glucose',406,415,951],['Uracil',406,415,966],['Histidine',406,415,981],['Phenylalanine',406,415,996],['Hypoxanthine',406,415,1011]]}]);
sPlot('panel-f',[83,1783,526,2168],v=>292+v*0.0276,v=>1975-v*204.8,fXTicks,fYTicks,fYLabels,fCloud,fNames,fPoints,n=>fStyle[n],2197,55,18,2233,[
 {box:[83,1783,321,1842],items:[['Ethanolamine',94,106,1797],['Taurine',94,106,1812],['Betaine',94,107,1829],['myo\u2212Inositol',215,222,1798],['NAD+',218,224,1815]]},
 {box:[296,2094,526,2168],items:[['Isoleucine',307,319,2109],['Leucine',307,319,2124],['Valine',307,319,2138],['Alanine',307,319,2153],['Acetaminophen',419,424,2110,13],['Creatine',419,431,2124],['Choline',419,431,2138],['Threonate',419,431,2153]]}]);

// ---------------- SPECTRA ----------------
function colorbar(g,x,y0,y1){const cb=G('colorbar',g);const n=40,h=(y1-y0)/n;
 for(let i=0;i<n;i++){const r=E('rect',{x:x,y:y0+i*h,width:36,height:h+0.6,fill:jet(1-(i+0.5)/n)},cb);
  
  }
 const fr=E('rect',{x:x,y:y0,width:36,height:y1-y0,fill:'none',stroke:'#555','stroke-width':1},cb);
 
 
 ['0.0','0.2','0.4','0.6','0.8','1.0'].forEach((s,i)=>{const y=y1-i*(y1-y0)/5;L(cb,'colorbar-tick',x+33,y,x+38,y,'#333',1);T(cb,'colorbar-tick-label',s,x+38,y,24,{anchor:'start',cls:'n'});});
 T(cb,'colorbar-title','Correlation  Coefficients',1758,(y0+y1)/2,25,{rot:-90});
}
function spectrum(name,box,xs,ys,range,yt,ylab,xtMajor,xtMinor,base,peaks,xlabY,cbY,notes){
 const g=G(name);
 const fr=E('rect',{x:box[0],y:box[1],width:box[2]-box[0],height:box[3]-box[1],fill:'none',stroke:'#444','stroke-width':1.5},g);
 
 
 L(g,'top-border',box[0],box[1],box[2],box[1],'#333',3);
 L(g,'bottom-border',box[0],box[3],box[2],box[3],'#333',3);
 L(g,'zero-line',xs(range[0]),ys(0),xs(range[1]),ys(0),'#cccccc',2.5);
 yt.forEach((v,i)=>{L(g,'y-tick',box[0],ys(v),box[0]-7,ys(v),'#333',1.5);T(g,'y-tick-label',ylab[i],box[0]-31,ys(v),22,{rot:-90});});
 xtMajor.forEach(v=>{L(g,'x-tick',xs(v),box[3],xs(v),box[3]+8,'#333',1.5);T(g,'x-tick-label',String(v),xs(v),xlabY,24,{cls:'n'});});
 xtMinor.forEach(v=>L(g,'x-minor-tick',xs(v),box[3],xs(v),box[3]+6,'#333',1.5));
 T(g,'x-axis-unit','\u03b4\u00b9H',box[2]-12,xlabY,24,{cls:'n'});
 T(g,'y-axis-title','Loading',box[0]-62,box[1]+(box[3]-box[1])/2,26,{rot:-90});
 for(let i=0;i<base.length-1;i++){const a=base[i],b=base[i+1];
  const s=L(g,'loading-trace',xs(a[0]),ys(a[1]),xs(b[0]),ys(b[1]),jet((a[2]+b[2])/2*0.7),1.6);
  s.setAttribute('stroke-linejoin','round');}
 peaks.forEach(p=>{const h=p[1]*0.45;
  L(g,'peak-base',xs(p[0]),ys(0),xs(p[0]),ys(h),jet(p[2]*0.55),2);
  L(g,'peak',xs(p[0]),ys(h),xs(p[0]),ys(p[1]),jet(p[2]),2);});
 colorbar(g,1664,cbY[0],cbY[1]);
 notes.forEach(n=>{T(g,'annotation-'+n[0].toLowerCase().replace(/[^a-z]+/g,'-'),n[0],n[1],n[2],23,{cls:'n',anchor:n[4]||'middle'});
  n[3].forEach(l=>L(g,'annotation-leader',l[0],l[1],l[2],l[3],'#000',2));});
 return g;
}
spectrum('panel-c',[611,67,1654,454],p=>838+(4-p)*236,v=>247-v*264,[4.81,0.71],[-0.6,-0.4,-0.2,0,0.2,0.4,0.6],['\u22120.6','\u22120.4','\u22120.2','0.0','0.2','0.4','0.6'],[4,3,2,1],[4.5,3.5,2.5,1.5],cBase,cPeaks,478,[84,440],[
 ['Inosine',732,86,[[714,100,654,180],[714,100,757,152]]],
 ['Creatine',956,90,[[898,99,870,156]]],
 ['Isocitrate',1138,100,[[1152,121,1186,149]]],
 ['Glucose',862,415,[[840,405,894,342],[840,405,908,389]]],
 ['Taurine',1032,427,[[1008,411,982,344]]],
 ['Glutamine',1284,397,[[1264,384,1238,349],[1264,384,1276,339]]],
 ['Alanine',1372,341,[[1384,359,1428,366]]],
 ['Isoleucine/Leucine',1520,408,[[1552,362,1570,398]]],
 ['/Valine',1414,439,[],'start']]);
spectrum('panel-b-loadings',[611,633,1656,1019],p=>799+(9-p)*212.25,v=>857-v*214,[9.7,5.15],[-0.5,0,0.5,1.0],['\u22120.5','0.0','0.5','1.0'],[9,8,7,6,5],[],sbBase,sbPeaks,1041,[650,1004],[
 ['Inosine',1227,678,[[1208,696,942,693],[1208,696,965,777],[1208,696,1397,784]]],
 ['Histamine',1538,723,[[1501,743,1464,804]]],
 ['Xanthine',1154,808,[[1096,811,1042,791]]],
 ['Hypoxanthine',916,976,[[897,967,961,947]]],
 ['Uracil',1074,960,[[1066,948,1099,907]]],
 ['Histidine',1231,967,[[1213,953,1187,905]]],
 ['Uracil',1534,952,[[1516,937,1485,902]]]]);
spectrum('panel-e',[611,1221,1656,1608],p=>846+(4-p)*241.7,v=>1373-v*98.3,[4.81,0.81],[-2,-1,0,1],['\u22122','\u22121','0','1'],[4,3,2,1],[4.5,3.5,2.5,1.5],eBase,ePeaks,1629,[1238,1592],[
 ['myo-Inositol',794,1261,[[875,1259,940,1254],[875,1259,916,1283],[875,1259,1014,1283]]],
 ['Betaine',943,1549,[[916,1541,849,1473],[916,1541,1016,1438]]],
 ['Ethanolamine',1183,1549,[[1123,1538,1081,1469]]],
 ['Alaine',1401,1515,[[1410,1492,1439,1432]]],
 ['Leucine/Valine',1568,1532,[[1575,1508,1569,1439]]]]);
spectrum('panel-f-loadings',[611,1783,1656,2171],p=>800+(9-p)*212.7,v=>1954-v*597,[9.7,5.16],[-0.3,-0.2,-0.1,0,0.1,0.2],['\u22120.3','\u22120.2','\u22120.1','0.0','0.1','0.2'],[9,8,7,6],[9.5,8.5,7.5,6.5,5.5],sfBase,sfPeaks,2193,[1800,2153],[
 ['Formate',855,1806,[[886,1826,918,1867]]],
 ['NAD+',1041,1817,[[1011,1835,983,1874]]],
 ['NAD+',1482,1817,[[1457,1835,1435,1888]]],
 ['Adenine',1042,2120,[[1007,2099,968,2060]]]]);

const letters=G('panel-labels');
[['(A)',102,27],['(C)',584,27],['(B)',72,600],['(D)',75,1153],['(E)',576,1151],['(F)',71,1735]].forEach(l=>T(letters,'panel-label',l[0],l[1],l[2],42));
</script>
</body></html>
